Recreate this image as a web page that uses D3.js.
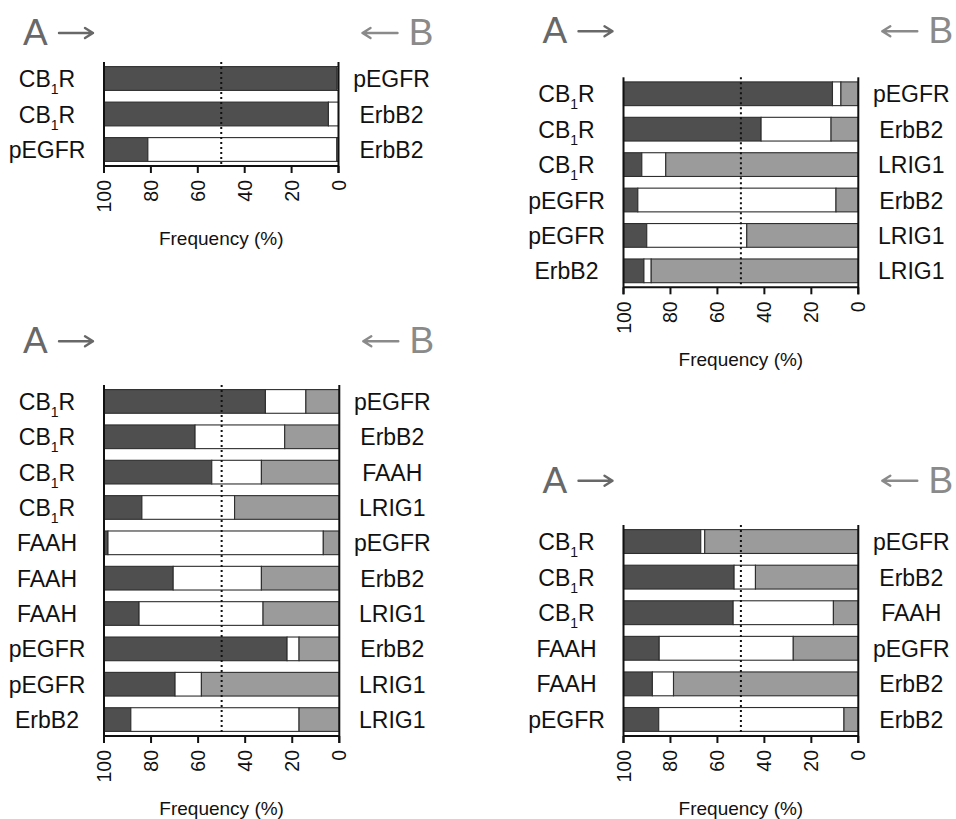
<!DOCTYPE html>
<html><head><meta charset="utf-8">
<script src="https://cdn.jsdelivr.net/npm/d3@7"></script>
<style>body{margin:0;background:#fff}svg{display:block}</style>
</head><body>
<svg id="c" width="956" height="819"></svg>
<script>
// ---- data ----
const tickValues = [100, 80, 60, 40, 20, 0];
const axisTitle = "Frequency (%)";

const p1Left  = ["CB_1R", "CB_1R", "pEGFR"];
const p1Right = ["pEGFR", "ErbB2", "ErbB2"];
const p1A     = [99.4, 95.7, 18.7];
const p1Mid   = [0.6, 4.3, 80.6];
const p1B     = [0, 0, 0.7];

const p2Left  = ["CB_1R", "CB_1R", "CB_1R", "pEGFR", "pEGFR", "ErbB2"];
const p2Right = ["pEGFR", "ErbB2", "LRIG1", "ErbB2", "LRIG1", "LRIG1"];
const p2A     = [89.0, 58.6, 7.8, 6.1, 9.9, 8.7];
const p2Mid   = [3.6, 29.8, 10.2, 84.4, 42.6, 3.1];
const p2B     = [7.4, 11.6, 82.0, 9.5, 47.5, 88.2];

const p3Left  = ["CB_1R", "CB_1R", "CB_1R", "CB_1R", "FAAH", "FAAH", "FAAH", "pEGFR", "pEGFR", "ErbB2"];
const p3Right = ["pEGFR", "ErbB2", "FAAH", "LRIG1", "pEGFR", "ErbB2", "LRIG1", "ErbB2", "LRIG1", "LRIG1"];
const p3A     = [68.6, 38.7, 45.8, 16.1, 1.7, 29.4, 14.9, 77.8, 30.2, 11.4];
const p3Mid   = [17.2, 38.1, 21.1, 39.4, 91.5, 37.5, 52.7, 5.1, 11.2, 71.5];
const p3B     = [14.2, 23.2, 33.1, 44.5, 6.8, 33.1, 32.4, 17.1, 58.6, 17.1];

const p4Left  = ["CB_1R", "CB_1R", "CB_1R", "FAAH", "FAAH", "pEGFR"];
const p4Right = ["pEGFR", "ErbB2", "FAAH", "pEGFR", "ErbB2", "ErbB2"];
const p4A     = [32.9, 47.1, 46.7, 15.2, 12.3, 15.0];
const p4Mid   = [1.7, 9.1, 42.7, 57.1, 9.0, 78.9];
const p4B     = [65.4, 43.8, 10.6, 27.7, 78.7, 6.1];

// ---- layout ----
const panels = [
  {left:p1Left, right:p1Right, a:p1A, m:p1Mid, b:p1B, x0:104,   x1:338.5, yTop:62,   yBot:166, titleY:45},
  {left:p2Left, right:p2Right, a:p2A, m:p2Mid, b:p2B, x0:623.5, x1:858.3, yTop:77.3, yBot:287.3, titleY:43.3},
  {left:p3Left, right:p3Right, a:p3A, m:p3Mid, b:p3B, x0:104,   x1:339.3, yTop:385,  yBot:736, titleY:353.3},
  {left:p4Left, right:p4Right, a:p4A, m:p4Mid, b:p4B, x0:623.5, x1:858.3, yTop:525,  yBot:736, titleY:492.7}
];

const FONT = "'Liberation Sans', Arial, Helvetica, sans-serif";
const svg = d3.select("#c");
const cDark = "#4f4f4f", cGrey = "#9b9b9b", cStroke = "#2e2e2e";

function writeLabel(sel, txt) {
  const parts = txt.split("_");
  if (parts.length === 1) { sel.text(txt); return; }
  sel.append("tspan").text(parts[0]);
  sel.append("tspan").attr("font-size", 14).attr("dy", 7).text(parts[1][0]);
  sel.append("tspan").attr("dy", -7).text(parts[1].slice(1));
}

function arrow(g, xs, xe, y, color) {
  const dir = xe > xs ? 1 : -1;
  g.append("path")
    .attr("d", `M${xs},${y}H${xe}M${xe - dir*8},${y-5}L${xe},${y}L${xe - dir*8},${y+5}`)
    .attr("fill", "none").attr("stroke", color).attr("stroke-width", 2.4)
    .attr("stroke-linecap", "round").attr("stroke-linejoin", "round");
}

panels.forEach(p => {
  const g = svg.append("g");
  const idx = d3.range(p.a.length);
  const x = d3.scaleLinear().domain([100, 0]).range([p.x0, p.x1]);
  const y = d3.scaleBand().domain(idx).range([p.yTop, p.yBot]).paddingInner(0.33).paddingOuter(0.13);

  // A / B headers
  g.append("text").attr("x", p.x0 - 81).attr("y", p.titleY)
    .attr("font-family", FONT).attr("font-size", 37).attr("fill", "#686868").text("A");
  arrow(g, p.x0 - 45, p.x0 - 11, p.titleY - 12, "#686868");
  g.append("text").attr("x", p.x1 + 95).attr("y", p.titleY).attr("text-anchor", "end")
    .attr("font-family", FONT).attr("font-size", 37).attr("fill", "#8a8a8a").text("B");
  arrow(g, p.x1 + 59, p.x1 + 24, p.titleY - 12, "#8a8a8a");

  // bars
  idx.forEach(i => {
    const segs = [
      {v0: 100, v1: 100 - p.a[i], fill: cDark},
      {v0: 100 - p.a[i], v1: p.b[i], fill: "#ffffff"},
      {v0: p.b[i], v1: 0, fill: cGrey}
    ];
    g.selectAll(null).data(segs.filter(s => s.v0 - s.v1 > 0)).join("rect")
      .attr("x", s => x(s.v0)).attr("width", s => x(s.v1) - x(s.v0))
      .attr("y", y(i)).attr("height", y.bandwidth())
      .attr("fill", s => s.fill).attr("stroke", cStroke).attr("stroke-width", 1.1);
  });

  // dotted midline
  g.append("line").attr("x1", x(50)).attr("x2", x(50)).attr("y1", p.yTop).attr("y2", p.yBot)
    .attr("stroke", "#111").attr("stroke-width", 2).attr("stroke-dasharray", "2,3");

  // axes frame
  const ax = g.append("g").attr("stroke", "#111").attr("stroke-width", 2);
  ax.append("line").attr("x1", p.x0).attr("x2", p.x0).attr("y1", p.yTop).attr("y2", p.yBot + 7);
  ax.append("line").attr("x1", p.x1).attr("x2", p.x1).attr("y1", p.yTop).attr("y2", p.yBot + 7);
  ax.append("line").attr("x1", p.x0).attr("x2", p.x1).attr("y1", p.yBot).attr("y2", p.yBot);
  ax.selectAll(null).data(tickValues).join("line")
    .attr("x1", d => x(d)).attr("x2", d => x(d)).attr("y1", p.yBot).attr("y2", p.yBot + 7);

  g.selectAll(null).data(tickValues).join("text")
    .attr("transform", d => `translate(${x(d)},${p.yBot + 14}) rotate(-90)`)
    .attr("dy", "0.36em").attr("text-anchor", "end")
    .attr("font-family", FONT).attr("font-size", 19.5).attr("fill", "#111")
    .text(d => d);

  g.append("text").attr("x", (p.x0 + p.x1) / 2).attr("y", p.yBot + 79)
    .attr("text-anchor", "middle").attr("font-family", FONT).attr("font-size", 19)
    .attr("fill", "#111").text(axisTitle);

  // row labels
  idx.forEach(i => {
    const cy = y(i) + y.bandwidth() / 2;
    const tl = g.append("text").attr("x", p.x0 - 57).attr("y", cy + 8.5).attr("text-anchor", "middle")
      .attr("font-family", FONT).attr("font-size", 23).attr("fill", "#111");
    writeLabel(tl, p.left[i]);
    const tr = g.append("text").attr("x", p.x1 + 53).attr("y", cy + 8.5).attr("text-anchor", "middle")
      .attr("font-family", FONT).attr("font-size", 23).attr("fill", "#111");
    writeLabel(tr, p.right[i]);
  });
});
</script>
</body></html>
